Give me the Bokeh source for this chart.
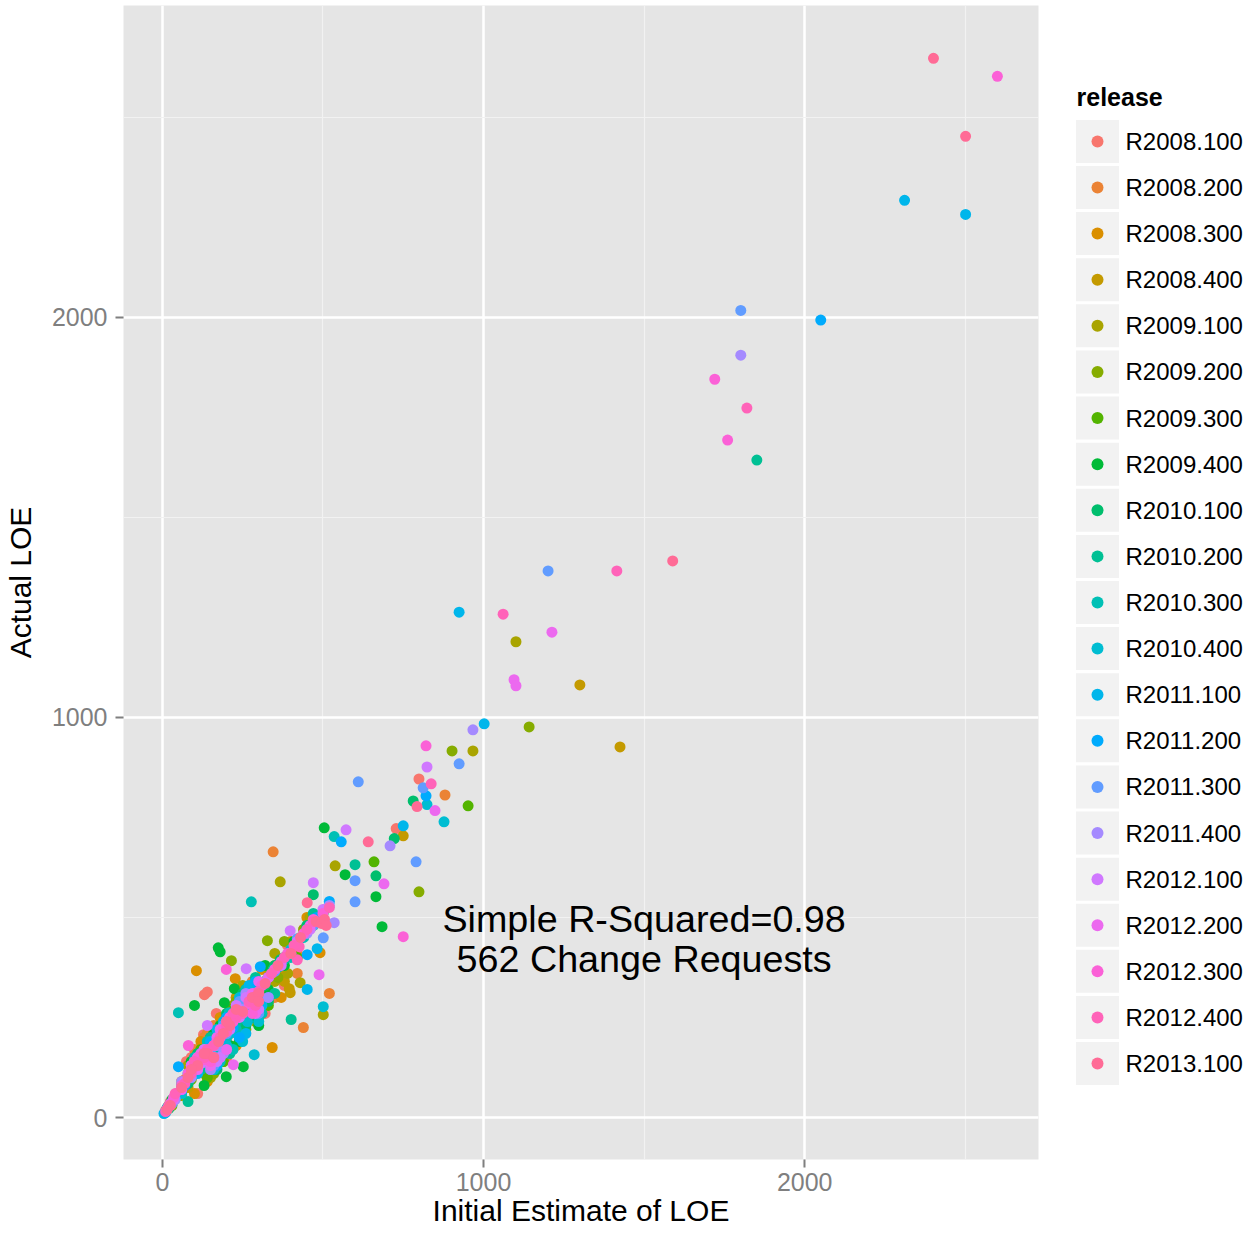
import math
from bokeh.plotting import figure
from bokeh.models import Range1d, FixedTicker, ColumnDataSource
from bokeh.layouts import row
from bokeh.transform import factor_cmap
from bokeh.core.properties import value
from bokeh.embed import file_html
from bokeh.resources import INLINE

FONT = "Liberation Sans"

releases = ["R2008.100", "R2008.200", "R2008.300", "R2008.400",
            "R2009.100", "R2009.200", "R2009.300", "R2009.400",
            "R2010.100", "R2010.200", "R2010.300", "R2010.400",
            "R2011.100", "R2011.200", "R2011.300", "R2011.400",
            "R2012.100", "R2012.200", "R2012.300", "R2012.400",
            "R2013.100"]

# (initial estimate, actual LOE) per release
r2008_100 = [(799, 846), (728, 722), (451, 469), (140, 314), (131, 307), (168, 260), (128, 207),
             (10, 18), (25, 40), (45, 60), (70, 95), (95, 110), (120, 150), (150, 170), (180, 215),
             (210, 240), (260, 280), (300, 330), (350, 360), (420, 440), (480, 500), (505, 520),
             (75, 140), (160, 120), (230, 300), (280, 250), (330, 290), (390, 430), (440, 470),
             (200, 190), (90, 150), (150, 110), (240, 320), (320, 260), (380, 330), (110, 60)]
r2008_200 = [(880, 806), (520, 310), (439, 225), (345, 664), (60, 70), (90, 120), (150, 185),
             (200, 235), (240, 250), (310, 300), (380, 400), (130, 200),
             (100, 170), (180, 150), (260, 300), (300, 270), (350, 380), (420, 410), (470, 500),
             (40, 55), (140, 210), (200, 150), (280, 340), (350, 300), (160, 230), (420, 360)]
r2008_300 = [(106, 367), (227, 347), (491, 412), (342, 175), (30, 40), (80, 100), (130, 145),
             (190, 210), (250, 270), (330, 345), (400, 440),
             (120, 190), (170, 160), (260, 320), (300, 280), (380, 360), (450, 500), (60, 90),
             (220, 235), (100, 60), (180, 250), (230, 180), (310, 370), (370, 300), (140, 90)]
r2008_400 = [(1300, 1081), (1425, 926), (750, 704), (398, 312), (395, 322), (40, 50), (100, 120),
             (160, 180), (230, 250), (300, 320), (370, 390), (460, 490),
             (130, 110), (200, 240), (270, 260), (330, 370), (410, 420), (500, 510), (80, 75),
             (180, 215), (120, 170), (190, 140), (250, 310), (310, 260), (230, 300), (380, 340)]
r2009_100 = [(1101, 1189), (967, 916), (538, 629), (367, 589), (429, 337), (501, 257), (20, 30),
             (70, 80), (140, 140), (200, 220), (280, 300), (350, 340), (420, 430),
             (110, 150), (170, 170), (240, 240), (320, 340), (390, 360), (460, 500), (60, 55),
             (250, 330), (80, 130), (150, 100), (220, 280), (290, 240), (350, 410), (170, 210)]
r2009_200 = [(1142, 976), (902, 916), (799, 564), (327, 442), (215, 392), (50, 55), (110, 125),
             (170, 185), (240, 270), (320, 340), (400, 415),
             (90, 95), (150, 170), (210, 210), (280, 310), (360, 350), (440, 470), (30, 30),
             (200, 250), (100, 150), (160, 110), (230, 290), (300, 250), (380, 440), (260, 220)]
r2009_300 = [(952, 779), (659, 639), (60, 65), (130, 150), (200, 205), (270, 290), (350, 370),
             (450, 470),
             (100, 120), (160, 190), (230, 230), (300, 330), (380, 400), (420, 400), (20, 25),
             (250, 260), (120, 170), (190, 140), (260, 320), (330, 280), (140, 100), (210, 270)]
r2009_400 = [(569, 607), (665, 552), (684, 477), (174, 424), (180, 414), (224, 322), (193, 287),
             (100, 280), (199, 102), (252, 127), (504, 724), (30, 45), (90, 100), (150, 160),
             (230, 240), (300, 310), (380, 380), (470, 480),
             (120, 125), (180, 230), (260, 285), (330, 320), (410, 440), (60, 70), (210, 180),
             (280, 250), (90, 140), (160, 210), (240, 190), (320, 380), (130, 80), (300, 230)]
r2010_100 = [(781, 791), (722, 697), (665, 604), (470, 557), (367, 394), (40, 50), (110, 130),
             (180, 200), (250, 255), (320, 330), (420, 440),
             (80, 85), (140, 170), (210, 240), (290, 300), (350, 380), (450, 480), (20, 22),
             (260, 230), (110, 160), (170, 120), (250, 310), (330, 290), (200, 260), (150, 200)]
r2010_200 = [(1851, 1643), (600, 632), (401, 245), (345, 370), (25, 35), (85, 95), (160, 170),
             (230, 235), (300, 300), (380, 395),
             (120, 120), (190, 225), (260, 280), (330, 350), (420, 440), (60, 80), (470, 510),
             (240, 200), (80, 40), (150, 200), (210, 160), (290, 350), (350, 310), (170, 130)]
r2010_300 = [(535, 702), (277, 539), (50, 262), (208, 262), (15, 25), (60, 75), (130, 140),
             (200, 200), (280, 290), (360, 375), (440, 450),
             (90, 120), (170, 175), (240, 270), (310, 330), (400, 400), (30, 40), (230, 220),
             (300, 290), (100, 150), (180, 140), (260, 320), (310, 260), (140, 190), (220, 170)]
r2010_400 = [(877, 739), (824, 782), (501, 277), (286, 157), (30, 35), (95, 105), (175, 190),
             (240, 255), (320, 340), (400, 420), (500, 510),
             (60, 60), (130, 150), (210, 210), (280, 300), (360, 380), (450, 470), (200, 180),
             (265, 240), (90, 130), (160, 120), (240, 300), (300, 240), (190, 240), (250, 190)]
r2011_100 = [(2311, 2292), (2501, 2257), (924, 1263), (1002, 984), (750, 729), (482, 422),
             (451, 320), (5, 10), (10, 12), (70, 90), (140, 155), (210, 230), (290, 300),
             (370, 385), (450, 470),
             (40, 50), (110, 110), (180, 205), (250, 275), (330, 350), (420, 430), (200, 170),
             (270, 330), (80, 110), (150, 120), (230, 280), (310, 280), (170, 220), (260, 210)]
r2011_200 = [(2050, 1993), (821, 804), (557, 689), (451, 407), (305, 377), (50, 127), (20, 28),
             (100, 115), (180, 195), (260, 275), (340, 360), (430, 450), (520, 540),
             (70, 80), (140, 160), (220, 225), (300, 320), (380, 400), (480, 500), (240, 200),
             (290, 340), (110, 150), (170, 130), (250, 300), (330, 300), (200, 250), (150, 190)]
r2011_300 = [(1801, 2017), (1201, 1366), (924, 884), (610, 839), (812, 824), (790, 639),
             (600, 592), (600, 539), (420, 447), (501, 449), (60, 70), (150, 170), (250, 270),
             (350, 365), (470, 480),
             (100, 120), (200, 210), (280, 300), (320, 340), (400, 410), (30, 35), (230, 250),
             (170, 150), (90, 130), (160, 130), (240, 290), (300, 260), (190, 230), (130, 170)]
r2011_400 = [(1801, 1905), (967, 969), (709, 679), (535, 487), (90, 100), (200, 215), (300, 310),
             (400, 410), (520, 530),
             (40, 45), (140, 160), (250, 270), (350, 370), (450, 460), (170, 180), (280, 280),
             (60, 90), (110, 150), (190, 160), (260, 310), (330, 300), (210, 250), (150, 120)]
r2012_100 = [(824, 876), (572, 719), (470, 587), (398, 467), (261, 372), (140, 230), (35, 45),
             (120, 135), (210, 220), (290, 310), (370, 380), (460, 470),
             (70, 90), (160, 180), (240, 250), (330, 350), (420, 440), (180, 150), (260, 300),
             (500, 520), (100, 140), (170, 140), (230, 280), (300, 270), (200, 240), (130, 170)]
r2012_200 = [(1213, 1213), (1095, 1094), (1101, 1079), (849, 767), (690, 584), (488, 357),
             (221, 132), (25, 35), (110, 120), (170, 200), (240, 260), (330, 350), (420, 430),
             (60, 70), (140, 160), (210, 230), (280, 310), (370, 390), (460, 480), (200, 170),
             (300, 340), (90, 130), (150, 130), (230, 270), (290, 260), (180, 220), (120, 160)]
r2012_300 = [(2600, 2602), (1720, 1845), (1760, 1693), (821, 929), (750, 452), (199, 370),
             (81, 180), (15, 22), (60, 80), (130, 145), (200, 225), (270, 285), (350, 370),
             (440, 460), (500, 510),
             (35, 50), (100, 125), (170, 190), (240, 265), (310, 330), (390, 410), (470, 495),
             (220, 240), (80, 110), (150, 140), (210, 250), (280, 260), (190, 220), (110, 150)]
r2012_400 = [(1820, 1773), (1415, 1366), (1061, 1258), (837, 834), (420, 394), (426, 427),
             (10, 15), (40, 60), (90, 110), (160, 180), (230, 250), (300, 315), (380, 400),
             (470, 490), (520, 525),
             (20, 30), (70, 85), (130, 150), (200, 215), (270, 290), (340, 360), (410, 430),
             (450, 470), (250, 260), (180, 200), (100, 140), (160, 150), (220, 260), (290, 280),
             (200, 230), (140, 170)]
r2013_100 = [(2401, 2647), (2501, 2452), (1589, 1391), (793, 777), (641, 689), (451, 537),
             (479, 490), (495, 485), (505, 495), (510, 480), (25, 30), (60, 75), (110, 130),
             (175, 190), (250, 265), (320, 335), (400, 410),
             (15, 20), (80, 100), (140, 160), (210, 230), (280, 300), (360, 380), (430, 450),
             (190, 210), (300, 310), (90, 120), (160, 150), (230, 270), (300, 290), (200, 240),
             (130, 160)]

groups = [r2008_100, r2008_200, r2008_300, r2008_400, r2009_100, r2009_200, r2009_300,
          r2009_400, r2010_100, r2010_200, r2010_300, r2010_400, r2011_100, r2011_200,
          r2011_300, r2011_400, r2012_100, r2012_200, r2012_300, r2012_400, r2013_100]

x_ticks = [0, 1000, 2000]
y_ticks = [0, 1000, 2000]
minor_ticks = [500, 1500, 2500]
annotation = "Simple R-Squared=0.98\n562 Change Requests"


def hcl_hex(h, c=100.0, l=65.0):
    hr = math.radians(h)
    u, v = c * math.cos(hr), c * math.sin(hr)
    Xn, Yn, Zn = 95.047, 100.0, 108.883
    den = Xn + 15 * Yn + 3 * Zn
    un, vn = 4 * Xn / den, 9 * Yn / den
    Y = Yn * ((l + 16) / 116) ** 3
    up, vp = u / (13 * l) + un, v / (13 * l) + vn
    X = 9 * Y * up / (4 * vp)
    Z = -X / 3 - 5 * Y + 3 * Y / vp
    X, Y, Z = X / 100, Y / 100, Z / 100
    rgb = [3.240479 * X - 1.537150 * Y - 0.498535 * Z,
           -0.969256 * X + 1.875992 * Y + 0.041556 * Z,
           0.055648 * X - 0.204043 * Y + 1.057311 * Z]
    out = []
    for t in rgb:
        t = 1.055 * t ** (1 / 2.4) - 0.055 if t > 0.0031308 else 12.92 * t
        out.append(int(round(min(max(t, 0), 1) * 255)))
    return "#%02X%02X%02X" % tuple(out)


n = len(releases)
palette = [hcl_hex(15 + 360.0 * i / n) for i in range(n)]

est, act, rel = [], [], []
for name, pts in zip(releases, groups):
    for e, a in pts:
        est.append(e)
        act.append(a)
        rel.append(name)
src = ColumnDataSource(dict(est=est, act=act, release=rel))

H = 1229
TOP, BOTTOM = 5, 69
p = figure(width=1062, height=H, x_range=Range1d(-121, 2728), y_range=Range1d(-104.9, 2779),
           output_backend="svg", toolbar_location=None,
           min_border_left=122, min_border_right=24, min_border_top=TOP, min_border_bottom=BOTTOM)
p.background_fill_color = "#E5E5E5"
p.border_fill_color = "white"
p.outline_line_color = None

p.xaxis.ticker = FixedTicker(ticks=x_ticks, minor_ticks=minor_ticks)
p.yaxis.ticker = FixedTicker(ticks=y_ticks, minor_ticks=minor_ticks)
for ax in (p.xaxis, p.yaxis):
    ax.axis_line_color = None
    ax.minor_tick_line_color = None
    ax.major_tick_line_color = "#7F7F7F"
    ax.major_tick_line_width = 2
    ax.major_tick_out = 8
    ax.major_tick_in = 0
    ax.major_label_text_color = "#7F7F7F"
    ax.major_label_text_font = FONT
    ax.major_label_text_font_size = "25px"
    ax.axis_label_text_font = FONT
    ax.axis_label_text_font_size = "30px"
    ax.axis_label_text_font_style = "normal"
    ax.axis_label_text_color = "black"
p.xaxis.axis_label = "Initial Estimate of LOE"
p.yaxis.axis_label = "Actual LOE"
p.xaxis.major_label_standoff = 5
p.xaxis.axis_label_standoff = 0
p.yaxis.major_label_standoff = 8
p.yaxis.axis_label_standoff = 12

for g in (p.xgrid, p.ygrid):
    g.grid_line_color = "white"
    g.grid_line_width = 2.5
    g.minor_grid_line_color = "#F2F2F2"
    g.minor_grid_line_width = 1.2

p.scatter("est", "act", source=src, size=11, line_color=None,
          fill_color=factor_cmap("release", palette, releases))

p.text(x=[1500], y=[446], text=[annotation], text_align="center", text_baseline="middle",
       text_font=value(FONT), text_font_size="37.7px", text_line_height=0.96, text_color="black")

# legend panel (its frame is aligned with the main frame by the row layout)
leg = figure(width=182, height=H, x_range=Range1d(0, 182), y_range=Range1d(22.08, -2.947),
             output_backend="svg", toolbar_location=None, x_axis_type=None, y_axis_type=None,
             min_border_left=0, min_border_right=0, min_border_top=TOP, min_border_bottom=BOTTOM)
leg.outline_line_color = None
leg.xgrid.visible = False
leg.ygrid.visible = False
idx = list(range(n))
leg.scatter(x=[35] * n, y=idx, marker="square", size=43, fill_color="#F2F2F2", line_color=None)
leg.scatter(x=[35] * n, y=idx, size=12, fill_color=palette, line_color=None)
leg.text(x=[63] * n, y=idx, text=releases, text_baseline="middle", text_font=value(FONT),
         text_font_size="24px", text_color="black")
leg.text(x=[14], y=[-0.953], text=["release"], text_baseline="middle", text_font=value(FONT),
         text_font_size="25px", text_font_style="bold", text_color="black")

layout = row(p, leg)
open("out.html", "w").write(file_html(layout, INLINE))
